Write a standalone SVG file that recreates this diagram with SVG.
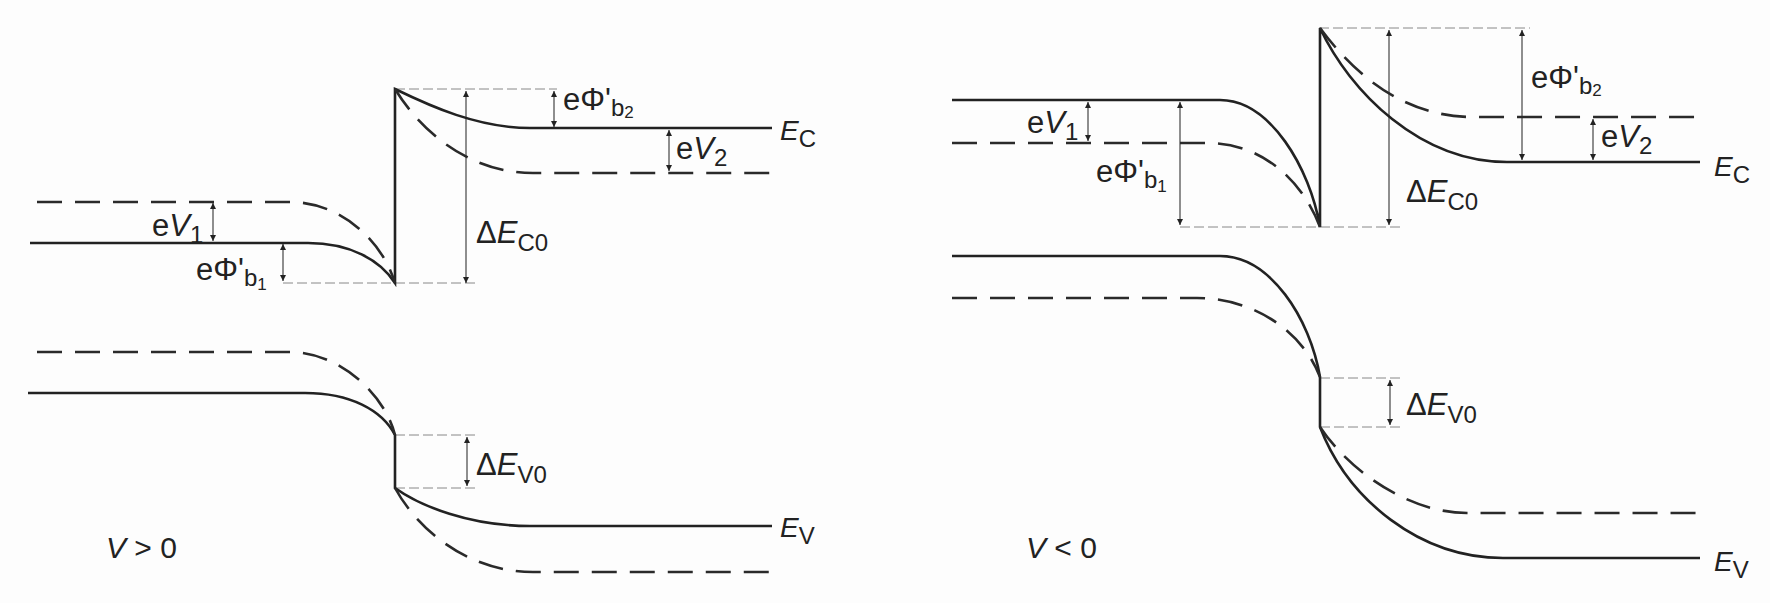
<svg xmlns="http://www.w3.org/2000/svg" width="1770" height="603" viewBox="0 0 1770 603">
<defs>
<marker id="ah" viewBox="0 0 10 10" refX="10" refY="5" markerWidth="6" markerHeight="8" markerUnits="userSpaceOnUse" orient="auto-start-reverse">
<path d="M0,0 L10,5 L0,10 z" fill="#222"/>
</marker>
<style>
.band{fill:none;stroke:#222;stroke-width:2.6;stroke-linecap:butt}
.dash{fill:none;stroke:#2a2a2a;stroke-width:2.6;stroke-dasharray:25 13}
.guide{fill:none;stroke:#888;stroke-width:1;stroke-dasharray:10 4}
.dim{fill:none;stroke:#333;stroke-width:1.1;marker-start:url(#ah);marker-end:url(#ah)}
text{font-family:"Liberation Sans",Arial,sans-serif;fill:#222}
.lbl{font-size:31px}
.lvl{font-size:28px}
.big{font-size:30px}
.it{font-style:italic}
.s{font-size:24px}
.ss{font-size:17px}
</style>
</defs>
<rect width="1770" height="603" fill="#fdfdfd"/>

<g id="connectors">
<path class="guide" d="M395,89 H557"/>
<path class="guide" d="M283,283 H475"/>
<path class="guide" d="M395,435 H475"/>
<path class="guide" d="M395,488 H475"/>
<path class="guide" d="M1319,28 H1530"/>
<path class="guide" d="M1180,227 H1403"/>
<path class="guide" d="M1320,378 H1402"/>
<path class="guide" d="M1320,427 H1402"/>
<path class="dim" d="M213,203 V241"/>
<path class="dim" d="M283,244 V281"/>
<path class="dim" d="M466,91 V283"/>
<path class="dim" d="M554,91 V127"/>
<path class="dim" d="M669,130 V171"/>
<path class="dim" d="M467,437 V486"/>
<path class="dim" d="M1088,102 V141"/>
<path class="dim" d="M1180,102 V225"/>
<path class="dim" d="M1389,30 V225"/>
<path class="dim" d="M1522,30 V160"/>
<path class="dim" d="M1593,119 V160"/>
<path class="dim" d="M1390,380 V425"/>
</g>

<g id="left-ec">
<path class="band" d="M30,243 H308 C350,243 380,260 395,283 V89 C430,106 478,128 530,128 H772"/>
<path class="dash" d="M37,202 H290 C340,202 382,240 395,283"/>
<path class="dash" d="M395,89 C420,130 468,173 533,173 H775"/>
</g>

<g id="left-ev">
<path class="band" d="M28,393 H305 C350,393 382,410 395,435 V488 C420,506 470,526 530,526 H772"/>
<path class="dash" d="M37,352 H290 C340,352 385,395 395,435"/>
<path class="dash" d="M395,488 C418,530 468,572 533,572 H775"/>
</g>

<g id="right-ec">
<path class="band" d="M952,100 H1220 C1270,100 1310,168 1320,227 V28 C1350,92 1420,162 1507,162 H1700"/>
<path class="dash" d="M952,143 H1207 C1262,143 1302,180 1320,227"/>
<path class="dash" d="M1320,28 C1360,82 1410,117 1473,117 H1703"/>
</g>

<g id="right-ev">
<path class="band" d="M952,256 H1220 C1270,256 1310,318 1320,377 V427 C1348,500 1420,558 1503,558 H1700"/>
<path class="dash" d="M952,298 H1197 C1252,298 1302,330 1320,377"/>
<path class="dash" d="M1320,427 C1350,472 1410,513 1467,513 H1700"/>
</g>

<g id="labels-left">
<text class="lbl" x="152" y="236">e<tspan class="it">V</tspan><tspan class="s" dy="7">1</tspan></text>
<text class="lbl" x="196" y="280">eΦ'<tspan class="s" dy="6">b</tspan><tspan class="ss" dy="4">1</tspan></text>
<text class="lbl" x="563" y="110">eΦ'<tspan class="s" dy="6">b</tspan><tspan class="ss" dy="2">2</tspan></text>
<text class="lbl" x="676" y="159">e<tspan class="it">V</tspan><tspan class="s" dy="7">2</tspan></text>
<text class="lbl" x="476" y="243">Δ<tspan class="it">E</tspan><tspan class="s" dy="8">C0</tspan></text>
<text class="lvl" x="780" y="140"><tspan class="it">E</tspan><tspan class="s" dy="7">C</tspan></text>
<text class="lbl" x="476" y="475">Δ<tspan class="it">E</tspan><tspan class="s" dy="8">V0</tspan></text>
<text class="lvl" x="780" y="537"><tspan class="it">E</tspan><tspan class="s" dy="7">V</tspan></text>
<text class="big" x="106" y="558"><tspan class="it">V</tspan> &gt; 0</text>
</g>

<g id="labels-right">
<text class="lbl" x="1027" y="133">e<tspan class="it">V</tspan><tspan class="s" dy="7">1</tspan></text>
<text class="lbl" x="1096" y="182">eΦ'<tspan class="s" dy="6">b</tspan><tspan class="ss" dy="4">1</tspan></text>
<text class="lbl" x="1531" y="88">eΦ'<tspan class="s" dy="6">b</tspan><tspan class="ss" dy="2">2</tspan></text>
<text class="lbl" x="1601" y="147">e<tspan class="it">V</tspan><tspan class="s" dy="7">2</tspan></text>
<text class="lbl" x="1406" y="202">Δ<tspan class="it">E</tspan><tspan class="s" dy="8">C0</tspan></text>
<text class="lvl" x="1714" y="176"><tspan class="it">E</tspan><tspan class="s" dy="7">C</tspan></text>
<text class="lbl" x="1406" y="415">Δ<tspan class="it">E</tspan><tspan class="s" dy="8">V0</tspan></text>
<text class="lvl" x="1714" y="571"><tspan class="it">E</tspan><tspan class="s" dy="7">V</tspan></text>
<text class="big" x="1026" y="558"><tspan class="it">V</tspan> &lt; 0</text>
</g>
</svg>
